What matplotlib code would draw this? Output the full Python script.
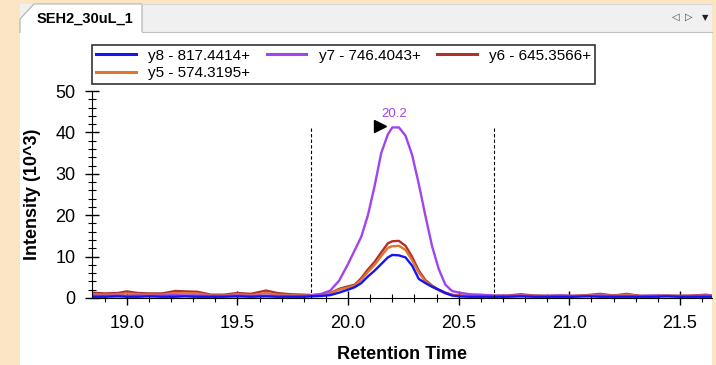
import numpy as np
import matplotlib
matplotlib.use('Agg')
import matplotlib.pyplot as plt
from matplotlib.patches import Rectangle, Polygon
from matplotlib.ticker import MultipleLocator

plt.rcParams['font.family'] = ['Liberation Sans', 'DejaVu Sans']

# retention time (min)
t = [18.84, 18.90, 18.96, 19.00, 19.05, 19.10, 19.16, 19.22, 19.26, 19.32,
     19.38, 19.44, 19.50, 19.56, 19.63, 19.68, 19.74, 19.80, 19.84, 19.88,
     19.92, 19.96, 20.00, 20.03, 20.06, 20.09, 20.12, 20.15, 20.18, 20.20,
     20.23, 20.26, 20.29, 20.32, 20.35, 20.38, 20.41, 20.44, 20.47, 20.50,
     20.55, 20.60, 20.66, 20.72, 20.78, 20.84, 20.90, 20.96, 21.02, 21.08,
     21.14, 21.20, 21.26, 21.32, 21.38, 21.44, 21.50, 21.56, 21.62, 21.65]

# intensities (10^3)
y8 = [0.3, 0.3, 0.4, 0.3, 0.3, 0.4, 0.3, 0.3, 0.4, 0.3,
      0.3, 0.3, 0.4, 0.3, 0.4, 0.3, 0.3, 0.3, 0.4, 0.5,
      0.7, 1.3, 2.0, 2.6, 3.6, 5.2, 6.6, 8.2, 9.8, 10.4,
      10.3, 9.8, 7.8, 4.6, 3.6, 2.7, 2.0, 1.2, 0.6, 0.4,
      0.3, 0.3, 0.3, 0.3, 0.4, 0.3, 0.3, 0.3, 0.3, 0.4,
      0.3, 0.3, 0.3, 0.3, 0.3, 0.4, 0.3, 0.3, 0.3, 0.3]
y7 = [0.6, 0.5, 0.6, 0.5, 0.6, 0.5, 0.6, 0.7, 0.6, 0.6,
      0.5, 0.5, 0.6, 0.5, 0.6, 0.5, 0.5, 0.5, 0.7, 1.0,
      1.8, 4.2, 8.2, 11.5, 14.8, 20.0, 27.0, 35.0, 39.5, 41.2,
      41.2, 39.2, 34.5, 27.5, 19.8, 12.5, 7.0, 3.2, 1.7, 1.3,
      0.9, 0.8, 0.6, 0.5, 0.6, 0.5, 0.5, 0.6, 0.5, 0.5,
      0.6, 0.5, 0.5, 0.5, 0.6, 0.5, 0.5, 0.5, 0.6, 0.5]
y6 = [1.3, 1.1, 1.2, 1.6, 1.2, 1.1, 1.1, 1.7, 1.6, 1.5,
      0.8, 0.8, 1.2, 1.0, 1.8, 1.2, 0.9, 0.8, 0.7, 0.9,
      1.2, 2.2, 2.8, 3.2, 4.8, 6.9, 8.7, 11.0, 13.2, 13.7,
      13.8, 12.6, 9.9, 6.6, 4.3, 3.0, 2.0, 1.3, 0.8, 0.6,
      0.5, 0.6, 0.5, 0.6, 0.9, 0.6, 0.5, 0.6, 0.5, 0.7,
      1.0, 0.6, 1.0, 0.5, 0.5, 0.6, 0.5, 0.6, 0.8, 0.5]
y5 = [0.9, 0.8, 0.9, 1.1, 0.9, 0.8, 0.8, 1.2, 1.1, 1.1,
      0.6, 0.6, 0.9, 0.7, 1.2, 0.8, 0.7, 0.6, 0.6, 0.8,
      1.1, 2.0, 2.5, 3.0, 4.4, 6.3, 8.0, 10.1, 12.1, 12.5,
      12.6, 11.6, 9.1, 6.1, 4.0, 2.8, 1.8, 1.1, 0.7, 0.5,
      0.5, 0.5, 0.5, 0.5, 0.7, 0.5, 0.5, 0.5, 0.5, 0.6,
      0.8, 0.5, 0.8, 0.5, 0.5, 0.5, 0.5, 0.5, 0.6, 0.5]

labels = {'y8': 'y8 - 817.4414+', 'y7': 'y7 - 746.4043+',
          'y6': 'y6 - 645.3566+', 'y5': 'y5 - 574.3195+'}
colors = {'y8': '#1414f5', 'y7': '#a044ee', 'y6': '#b0302c', 'y5': '#e0752e'}
bounds = [19.833, 20.658]
tab_title = 'SEH2_30uL_1'

W, H = 716, 365
fig = plt.figure(figsize=(W / 100, H / 100), dpi=100)
fig.patch.set_facecolor('#fae6c4')

# window frame, drawn in pixel coordinates
bg = fig.add_axes([0, 0, 1, 1])
bg.set_xlim(0, W)
bg.set_ylim(H, 0)
bg.axis('off')
bg.add_patch(Rectangle((20, 4), 692, 361, fc='white', ec='none'))
bg.add_patch(Rectangle((20, 4), 692, 28, fc='#f0f0f0', ec='none'))
bg.plot([142, 712], [32, 32], color='#c0c0c0', lw=0.8)
bg.plot([34, 712], [4, 4], color='#d8d8d8', lw=0.8)
bg.add_patch(Polygon([(20, 33), (20, 19), (34, 4), (142, 4), (142, 32)],
                     closed=False, fc='white', ec='#b0b0b0', lw=0.8))
bg.text(37, 19, tab_title, fontsize=10.5, fontweight='bold', va='center')
bg.text(676, 17, '\u25c1', fontsize=7, ha='center', va='center',
        family='DejaVu Sans', color='#404040')
bg.text(689, 17, '\u25b7', fontsize=7, ha='center', va='center',
        family='DejaVu Sans', color='#404040')
bg.text(705, 18, '\u25bc', fontsize=6, ha='center', va='center',
        family='DejaVu Sans', color='#202020')

ax = fig.add_axes([92 / W, 1 - 298 / H, 620 / W, 207 / H])
ax.patch.set_alpha(0)
for k in ['y6', 'y5', 'y7', 'y8']:
    ax.plot(t, globals()[k], color=colors[k], lw=1.7, label=labels[k])

ax.vlines(bounds, 0, max(y7), colors='black', linestyles=(0, (3, 2)), lw=0.8)

ipk = int(np.argmax(y7))
tpk = t[ipk] + 0.01
ax.text(tpk, max(y7) + 3.2, f'{tpk:.1f}', color=colors['y7'], fontsize=9.5,
        ha='center', va='center')
ax.plot(tpk - 0.065, max(y7) + 0.3, marker='>', color='black', ms=9,
        clip_on=False)

ax.set_xlim(18.843, 21.645)
ax.set_ylim(0, 50)
ax.spines['top'].set_visible(False)
ax.spines['right'].set_visible(False)
ax.xaxis.set_major_locator(MultipleLocator(0.5))
ax.xaxis.set_minor_locator(MultipleLocator(0.1))
ax.yaxis.set_major_locator(MultipleLocator(10))
ax.yaxis.set_minor_locator(MultipleLocator(2))
ax.xaxis.set_major_formatter(plt.FormatStrFormatter('%.1f'))
ax.tick_params(axis='both', which='major', direction='inout', length=10,
               width=1, labelsize=13, colors='black')
ax.tick_params(axis='both', which='minor', direction='inout', length=6,
               width=0.8)
ax.tick_params(axis='x', which='major', pad=7)
ax.tick_params(axis='y', which='major', pad=7)
ax.set_xlabel('Retention Time', fontsize=13, fontweight='bold', labelpad=10)
ax.set_ylabel('Intensity (10^3)', fontsize=13, fontweight='bold', labelpad=10)

h, l = ax.get_legend_handles_labels()
order = [l.index(labels[k]) for k in ['y8', 'y5', 'y7', 'y6']]
leg = fig.legend([h[i] for i in order], [l[i] for i in order], ncol=3,
                 loc='upper left', bbox_to_anchor=(92 / W, 1 - 45 / H),
                 fontsize=11, frameon=True, fancybox=False, borderpad=0.25,
                 handlelength=2.6, handletextpad=0.8, columnspacing=1.1,
                 labelspacing=0.2, borderaxespad=0)
leg.get_frame().set_edgecolor('black')
leg.get_frame().set_linewidth(1.2)
for line in leg.get_lines():
    line.set_linewidth(2.2)

fig.savefig('out.png', dpi=100, facecolor=fig.get_facecolor())
